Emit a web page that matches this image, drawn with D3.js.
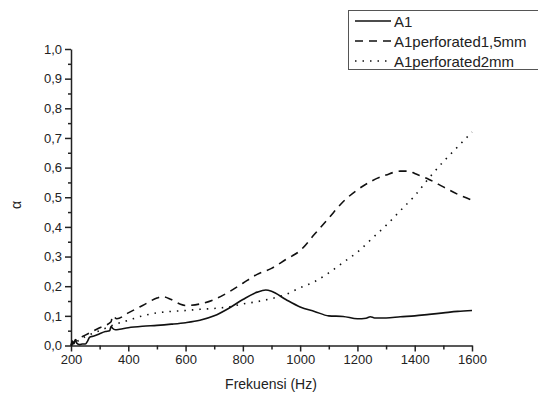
<!DOCTYPE html>
<meta charset="utf-8">
<script src="https://cdn.jsdelivr.net/npm/d3@7"></script>
<style>
  body { margin: 0; background: #fff; }
  text { font-family: "Liberation Sans", Arial, sans-serif; fill: #222; }
</style>
<body>
<script>

var width = 538
var height = 394

// A1 (solid)
var a1Freq  = [200, 205, 210, 215, 220, 230, 240, 250, 258, 265, 280, 300, 320, 335, 340, 345, 355, 370, 400, 450, 500, 550, 600, 650, 700, 750, 800, 850, 880, 900, 950, 1000, 1050, 1100, 1150, 1200, 1230, 1245, 1260, 1300, 1350, 1400, 1450, 1500, 1550, 1600]
var a1Alpha = [0.0, 0.015, 0.005, 0.02, 0.008, 0.003, 0.005, 0.005, 0.015, 0.028, 0.032, 0.04, 0.047, 0.05, 0.065, 0.058, 0.053, 0.055, 0.06, 0.065, 0.068, 0.072, 0.077, 0.085, 0.1, 0.125, 0.155, 0.18, 0.187, 0.183, 0.155, 0.13, 0.115, 0.1, 0.098, 0.09, 0.092, 0.097, 0.093, 0.093, 0.097, 0.1, 0.105, 0.11, 0.115, 0.118]

// A1perforated1,5mm (dashed)
var p15Freq  = [200, 220, 250, 300, 340, 345, 360, 400, 450, 500, 520, 550, 580, 600, 650, 700, 750, 800, 850, 900, 950, 1000, 1050, 1100, 1150, 1200, 1250, 1300, 1350, 1380, 1400, 1450, 1500, 1550, 1600]
var p15Alpha = [0.0, 0.02, 0.035, 0.06, 0.08, 0.1, 0.09, 0.11, 0.135, 0.16, 0.165, 0.155, 0.14, 0.135, 0.14, 0.155, 0.18, 0.21, 0.24, 0.26, 0.29, 0.32, 0.375, 0.43, 0.485, 0.525, 0.555, 0.575, 0.588, 0.588, 0.58, 0.56, 0.535, 0.51, 0.49]

// A1perforated2mm (dotted)
var p2Freq  = [200, 250, 300, 350, 400, 450, 500, 550, 600, 650, 700, 750, 800, 850, 900, 950, 1000, 1050, 1100, 1150, 1200, 1250, 1300, 1350, 1400, 1450, 1500, 1550, 1600]
var p2Alpha = [0.0, 0.03, 0.05, 0.07, 0.085, 0.1, 0.11, 0.115, 0.118, 0.122, 0.125, 0.13, 0.14, 0.148, 0.158, 0.172, 0.195, 0.215, 0.245, 0.28, 0.315, 0.36, 0.405, 0.455, 0.505, 0.565, 0.62, 0.67, 0.72]

var xTicks = [200, 400, 600, 800, 1000, 1200, 1400, 1600]
var yTicks = [0, 0.1, 0.2, 0.3, 0.4, 0.5, 0.6, 0.7, 0.8, 0.9, 1.0]
var legendLabels = ["A1", "A1perforated1,5mm", "A1perforated2mm"]

var x = d3.scaleLinear().domain([200, 1600]).range([71, 472])
var y = d3.scaleLinear().domain([0, 1]).range([345.5, 49])

var svg = d3.select("body").append("svg")
            .attr("width", width)
            .attr("height", height)

var fmt = v => d3.format(".1f")(v).replace(".", ",")

// minor ticks
svg.append("g")
   .attr("transform", "translate(0," + y(0) + ")")
   .call(d3.axisBottom(x).tickValues(d3.range(300, 1600, 200)).tickSize(4).tickFormat(""))
   .call(g => g.select(".domain").remove())
svg.append("g")
   .attr("transform", "translate(" + x(200) + ",0)")
   .call(d3.axisLeft(y).tickValues(d3.range(0.05, 1, 0.1)).tickSize(3).tickFormat(""))
   .call(g => g.select(".domain").remove())

var xAxis = svg.append("g")
   .attr("transform", "translate(0," + y(0) + ")")
   .call(d3.axisBottom(x).tickValues(xTicks).tickSize(6).tickSizeOuter(0).tickPadding(3).tickFormat(d3.format("d")))
xAxis.selectAll("text").style("font-size", "13px")

var yAxis = svg.append("g")
   .attr("transform", "translate(" + x(200) + ",0)")
   .call(d3.axisLeft(y).tickValues(yTicks).tickSize(6).tickSizeOuter(0).tickPadding(3).tickFormat(fmt))
yAxis.selectAll("text").style("font-size", "13px")

svg.selectAll(".domain, .tick line").style("stroke", "#222").style("stroke-width", 1.5)

svg.append("text")
   .attr("x", 271)
   .attr("y", 389)
   .style("text-anchor", "middle")
   .style("font-size", "14px")
   .text("Frekuensi (Hz)")

svg.append("text")
   .attr("transform", "translate(21,205) rotate(-90)")
   .style("text-anchor", "middle")
   .style("font-size", "14px")
   .text("α")

var line = d3.line().x(d => x(d[0])).y(d => y(d[1]))

var series = [
  { pts: d3.zip(a1Freq, a1Alpha), dash: null },
  { pts: d3.zip(p15Freq, p15Alpha), dash: "8,6" },
  { pts: d3.zip(p2Freq, p2Alpha), dash: "1.5,6" }
]

series.forEach(s => {
  svg.append("path")
     .attr("d", line.curve(d3.curveMonotoneX)(s.pts))
     .attr("fill", "none")
     .attr("stroke", "#111")
     .attr("stroke-width", 1.6)
     .attr("stroke-dasharray", s.dash)
})

// legend
var lg = svg.append("g")
lg.append("rect")
  .attr("x", 348.5).attr("y", 10.5)
  .attr("width", 200).attr("height", 59)
  .attr("fill", "#fff").attr("stroke", "#555")

legendLabels.forEach((lab, i) => {
  var yy = 21 + i * 20
  lg.append("line")
    .attr("x1", 355).attr("x2", 391)
    .attr("y1", yy).attr("y2", yy)
    .attr("stroke", "#111").attr("stroke-width", 1.6)
    .attr("stroke-dasharray", series[i].dash)
  lg.append("text")
    .attr("x", 394).attr("y", yy + 5.5)
    .style("font-size", "15px")
    .text(lab)
})

</script>
</body>
